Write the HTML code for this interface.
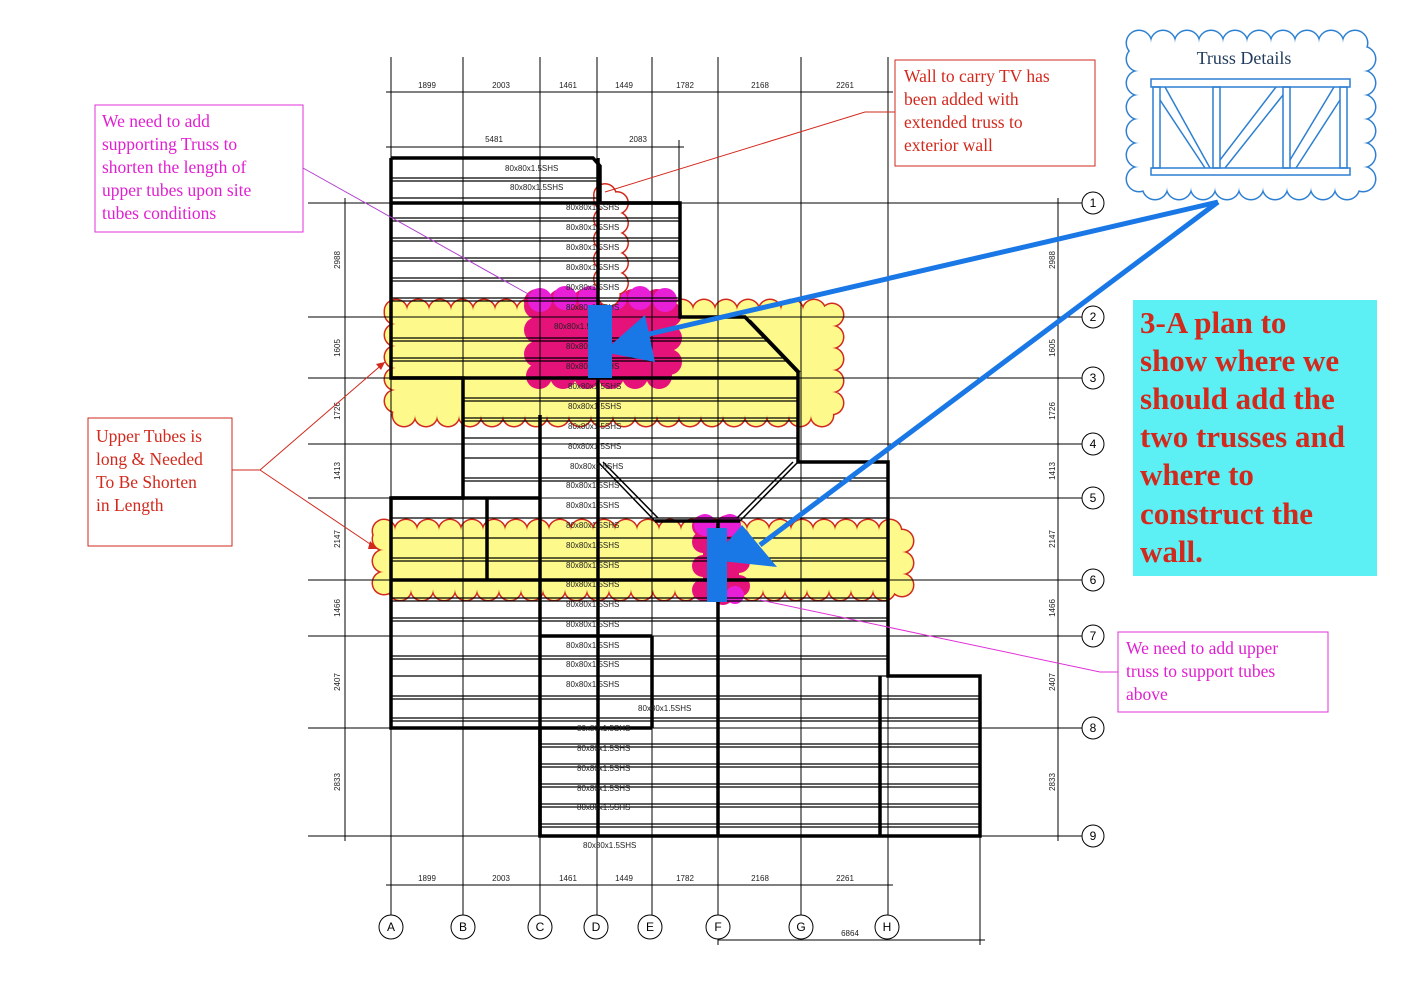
<!DOCTYPE html>
<html><head><meta charset="utf-8"><style>
html,body{margin:0;padding:0;background:#fff;}
svg{display:block;}
.s{font-family:"Liberation Sans",sans-serif;font-size:8px;fill:#222;}
.d{font-family:"Liberation Sans",sans-serif;font-size:8px;fill:#222;text-anchor:middle;}
.c{font-family:"Liberation Sans",sans-serif;font-size:12px;fill:#000;text-anchor:middle;}
.t{font-family:"Liberation Serif",serif;font-size:17.5px;}
</style></head><body>
<svg width="1403" height="992" viewBox="0 0 1403 992" xmlns="http://www.w3.org/2000/svg">
<rect width="1403" height="992" fill="#fff"/>

<!-- clouds yellow (scalloped) -->
<g stroke-linecap="round" stroke-dasharray="0 22" fill="none">
<rect x="396" y="311" width="436" height="104" stroke="#d2291d" stroke-width="25"/>
<rect x="396" y="311" width="436" height="104" stroke="#fdf98a" stroke-width="22"/>
<rect x="384" y="531" width="518" height="58" stroke="#d2291d" stroke-width="25"/>
<rect x="384" y="531" width="518" height="58" stroke="#fdf98a" stroke-width="22"/>
</g>
<rect x="396" y="311" width="436" height="104" fill="#fdf98a"/>
<rect x="384" y="531" width="518" height="58" fill="#fdf98a"/>
<!-- magenta clouds -->
<g stroke-linecap="round" stroke-dasharray="0 24" fill="none">
<rect x="537" y="302" width="132" height="74" stroke="#e5127a" stroke-width="26"/>
<rect x="703" y="526" width="36" height="68" stroke="#e5127a" stroke-width="22"/>
</g>
<rect x="537" y="302" width="132" height="74" fill="#e5127a"/>
<rect x="703" y="526" width="36" height="68" fill="#e5127a"/>
<g fill="#e91fd8">
<circle cx="540" cy="300" r="12"/><circle cx="565" cy="298" r="12"/><circle cx="590" cy="298" r="12"/><circle cx="615" cy="298" r="12"/><circle cx="640" cy="298" r="12"/><circle cx="665" cy="300" r="12"/>
<circle cx="705" cy="525" r="11"/><circle cx="730" cy="525" r="11"/><circle cx="735" cy="595" r="9"/>
</g>
<!-- red TV cloud -->
<g stroke-linecap="round" stroke-dasharray="0 20" fill="none">
<rect x="605" y="195" width="12" height="100" stroke="#d2291d" stroke-width="24"/>
<rect x="605" y="195" width="12" height="100" stroke="#fff" stroke-width="21"/>
</g>
<rect x="605" y="195" width="12" height="100" fill="#fff"/>

<!-- grid lines -->
<g stroke="#000" stroke-width="1">
<line x1="391" y1="57" x2="391" y2="915"/><line x1="463" y1="57" x2="463" y2="915"/>
<line x1="540" y1="57" x2="540" y2="915"/><line x1="597" y1="57" x2="597" y2="915"/>
<line x1="652" y1="57" x2="652" y2="915"/><line x1="718" y1="57" x2="718" y2="945"/>
<line x1="801" y1="57" x2="801" y2="915"/><line x1="888" y1="57" x2="888" y2="915"/>
<line x1="980" y1="676" x2="980" y2="945"/><line x1="679" y1="140" x2="679" y2="203"/>
<line x1="308" y1="203" x2="1082" y2="203"/><line x1="308" y1="317" x2="1082" y2="317"/>
<line x1="308" y1="378" x2="1082" y2="378"/><line x1="308" y1="444" x2="1082" y2="444"/>
<line x1="308" y1="498" x2="1082" y2="498"/><line x1="308" y1="580" x2="1082" y2="580"/>
<line x1="308" y1="636" x2="1082" y2="636"/><line x1="308" y1="728" x2="1082" y2="728"/>
<line x1="308" y1="836" x2="1082" y2="836"/>
<line x1="386" y1="92" x2="893" y2="92"/><line x1="386" y1="147" x2="684" y2="147"/>
<line x1="386" y1="885" x2="893" y2="885"/><line x1="718" y1="940" x2="985" y2="940"/>
<line x1="345" y1="198" x2="345" y2="841"/><line x1="1058" y1="198" x2="1058" y2="841"/>
</g>

<!-- purlins -->
<g stroke="#000" stroke-width="1.2">
<line x1="391" y1="178" x2="597" y2="178"/><line x1="391" y1="181" x2="597" y2="181"/>
<line x1="391" y1="198" x2="597" y2="198"/>
<line x1="391" y1="218" x2="680" y2="218"/><line x1="391" y1="221" x2="680" y2="221"/>
<line x1="391" y1="238" x2="680" y2="238"/><line x1="391" y1="241" x2="680" y2="241"/>
<line x1="391" y1="258" x2="680" y2="258"/><line x1="391" y1="261" x2="680" y2="261"/>
<line x1="391" y1="278" x2="680" y2="278"/><line x1="391" y1="281" x2="680" y2="281"/>
<line x1="391" y1="298" x2="680" y2="298"/><line x1="391" y1="301" x2="680" y2="301"/>
<line x1="391" y1="338" x2="765" y2="338"/><line x1="391" y1="341" x2="767" y2="341"/>
<line x1="391" y1="358" x2="785" y2="358"/><line x1="391" y1="361" x2="787" y2="361"/>
<line x1="463" y1="398" x2="798" y2="398"/><line x1="463" y1="401" x2="798" y2="401"/>
<line x1="463" y1="418" x2="798" y2="418"/><line x1="463" y1="421" x2="798" y2="421"/>
<line x1="463" y1="438" x2="798" y2="438"/>
<line x1="463" y1="458" x2="798" y2="458"/>
<line x1="463" y1="478" x2="888" y2="478"/><line x1="463" y1="481" x2="888" y2="481"/>
<line x1="391" y1="518" x2="888" y2="518"/><line x1="391" y1="538" x2="888" y2="538"/>
<line x1="391" y1="558" x2="888" y2="558"/><line x1="391" y1="561" x2="888" y2="561"/>
<line x1="391" y1="598" x2="888" y2="598"/><line x1="391" y1="601" x2="888" y2="601"/>
<line x1="391" y1="618" x2="888" y2="618"/><line x1="391" y1="621" x2="888" y2="621"/>
<line x1="391" y1="656" x2="888" y2="656"/><line x1="391" y1="659" x2="888" y2="659"/>
<line x1="391" y1="676" x2="888" y2="676"/><line x1="391" y1="696" x2="980" y2="696"/><line x1="391" y1="699" x2="980" y2="699"/>
<line x1="391" y1="718" x2="980" y2="718"/><line x1="391" y1="721" x2="980" y2="721"/>
<line x1="540" y1="744" x2="980" y2="744"/><line x1="540" y1="747" x2="980" y2="747"/>
<line x1="540" y1="764" x2="980" y2="764"/><line x1="540" y1="767" x2="980" y2="767"/>
<line x1="540" y1="784" x2="980" y2="784"/><line x1="540" y1="787" x2="980" y2="787"/>
<line x1="540" y1="804" x2="980" y2="804"/><line x1="540" y1="807" x2="980" y2="807"/>
<line x1="540" y1="824" x2="980" y2="824"/><line x1="540" y1="827" x2="980" y2="827"/>
</g>

<!-- thick outline -->
<g stroke="#000" stroke-width="3.5" fill="none">
<polyline points="391,158 593,158 600,166 600,203 680,203 680,317 745,317 798,372 798,462 888,462 888,676 980,676 980,836 540,836 540,728 391,728 391,498 463,498 463,378 391,378 391,158"/>
<line x1="391" y1="203" x2="680" y2="203"/>
<line x1="391" y1="378" x2="798" y2="378"/>
<line x1="391" y1="580" x2="888" y2="580"/>
<line x1="540" y1="636" x2="652" y2="636"/><line x1="652" y1="636" x2="652" y2="728"/>
<line x1="540" y1="415" x2="540" y2="836"/>
<line x1="598" y1="158" x2="598" y2="836"/>
<line x1="718" y1="520" x2="718" y2="836"/>
<line x1="487" y1="498" x2="487" y2="580"/>
<line x1="391" y1="498" x2="540" y2="498"/>
<line x1="880" y1="676" x2="880" y2="836"/>
<line x1="540" y1="728" x2="652" y2="728"/>
<line x1="655" y1="521" x2="740" y2="521"/>
</g>
<g stroke="#000" stroke-width="1.5" fill="none">
<polyline points="598,462 655,521"/><polyline points="603,462 658,518"/>
<polyline points="740,521 798,462"/><polyline points="737,518 793,462"/>
<line x1="750" y1="320" x2="800" y2="372"/>
</g>

<!-- purlin labels -->
<g class="s">
<text x="505" y="171">80x80x1.5SHS</text><text x="510" y="190">80x80x1.5SHS</text>
<text x="566" y="210">80x80x1.5SHS</text><text x="566" y="230">80x80x1.5SHS</text>
<text x="566" y="250">80x80x1.5SHS</text><text x="566" y="270">80x80x1.5SHS</text>
<text x="566" y="290">80x80x1.5SHS</text><text x="566" y="310">80x80x1.5SHS</text>
<text x="554" y="329">80x80x1.5SHS</text><text x="566" y="349">80x80x1.5SHS</text>
<text x="566" y="369">80x80x1.5SHS</text><text x="568" y="389">80x80x1.5SHS</text>
<text x="568" y="409">80x80x1.5SHS</text><text x="568" y="429">80x80x1.5SHS</text>
<text x="568" y="449">80x80x1.5SHS</text><text x="570" y="469">80x80x1.5SHS</text>
<text x="566" y="488">80x80x1.5SHS</text><text x="566" y="508">80x80x1.5SHS</text>
<text x="566" y="528">80x80x1.5SHS</text><text x="566" y="548">80x80x1.5SHS</text>
<text x="566" y="568">80x80x1.5SHS</text><text x="566" y="587">80x80x1.5SHS</text>
<text x="566" y="607">80x80x1.5SHS</text><text x="566" y="627">80x80x1.5SHS</text>
<text x="566" y="648">80x80x1.5SHS</text><text x="566" y="667">80x80x1.5SHS</text>
<text x="566" y="687">80x80x1.5SHS</text><text x="638" y="711">80x80x1.5SHS</text>
<text x="577" y="731">80x80x1.5SHS</text><text x="577" y="751">80x80x1.5SHS</text>
<text x="577" y="771">80x80x1.5SHS</text><text x="577" y="791">80x80x1.5SHS</text>
<text x="577" y="810">80x80x1.5SHS</text><text x="583" y="848">80x80x1.5SHS</text>
</g>

<!-- dimension texts -->
<g class="d">
<text x="427" y="88">1899</text><text x="501" y="88">2003</text><text x="568" y="88">1461</text>
<text x="624" y="88">1449</text><text x="685" y="88">1782</text><text x="760" y="88">2168</text><text x="845" y="88">2261</text>
<text x="494" y="142">5481</text><text x="638" y="142">2083</text>
<text x="427" y="881">1899</text><text x="501" y="881">2003</text><text x="568" y="881">1461</text>
<text x="624" y="881">1449</text><text x="685" y="881">1782</text><text x="760" y="881">2168</text><text x="845" y="881">2261</text>
<text x="850" y="936">6864</text>
</g>
<g class="d">
<text transform="translate(340,260) rotate(-90)">2988</text><text transform="translate(340,348) rotate(-90)">1605</text>
<text transform="translate(340,411) rotate(-90)">1726</text><text transform="translate(340,471) rotate(-90)">1413</text>
<text transform="translate(340,539) rotate(-90)">2147</text><text transform="translate(340,608) rotate(-90)">1466</text>
<text transform="translate(340,682) rotate(-90)">2407</text><text transform="translate(340,782) rotate(-90)">2833</text>
<text transform="translate(1055,260) rotate(-90)">2988</text><text transform="translate(1055,348) rotate(-90)">1605</text>
<text transform="translate(1055,411) rotate(-90)">1726</text><text transform="translate(1055,471) rotate(-90)">1413</text>
<text transform="translate(1055,539) rotate(-90)">2147</text><text transform="translate(1055,608) rotate(-90)">1466</text>
<text transform="translate(1055,682) rotate(-90)">2407</text><text transform="translate(1055,782) rotate(-90)">2833</text>
</g>

<!-- circles -->
<g fill="#fff" stroke="#000" stroke-width="1">
<circle cx="1093" cy="203" r="11"/><circle cx="1093" cy="317" r="11"/><circle cx="1093" cy="378" r="11"/>
<circle cx="1093" cy="444" r="11"/><circle cx="1093" cy="498" r="11"/><circle cx="1093" cy="580" r="11"/>
<circle cx="1093" cy="636" r="11"/><circle cx="1093" cy="728" r="11"/><circle cx="1093" cy="836" r="11"/>
<circle cx="391" cy="927" r="12"/><circle cx="463" cy="927" r="12"/><circle cx="540" cy="927" r="12"/>
<circle cx="596" cy="927" r="12"/><circle cx="650" cy="927" r="12"/><circle cx="718" cy="927" r="12"/>
<circle cx="801" cy="927" r="12"/><circle cx="887" cy="927" r="12"/>
</g>
<g class="c">
<text x="1093" y="207">1</text><text x="1093" y="321">2</text><text x="1093" y="382">3</text>
<text x="1093" y="448">4</text><text x="1093" y="502">5</text><text x="1093" y="584">6</text>
<text x="1093" y="640">7</text><text x="1093" y="732">8</text><text x="1093" y="840">9</text>
<text x="391" y="931">A</text><text x="463" y="931">B</text><text x="540" y="931">C</text>
<text x="596" y="931">D</text><text x="650" y="931">E</text><text x="718" y="931">F</text>
<text x="801" y="931">G</text><text x="887" y="931">H</text>
</g>

<!-- blue markers and arrows -->
<rect x="588" y="305" width="24" height="73" fill="#1a78e6"/>
<rect x="707" y="528" width="20" height="74" fill="#1a78e6"/>
<g stroke="#1a78e6" stroke-width="5" fill="none">
<line x1="1218" y1="202" x2="645" y2="335"/>
<line x1="1218" y1="202" x2="760" y2="545"/>
</g>
<polygon points="603,352 645,315 655,362" fill="#1a78e6"/>
<polygon points="712,560 742,525 777,567" fill="#1a78e6"/>

<!-- truss details cloud -->
<g stroke-linecap="round" stroke-dasharray="0 24" fill="none">
<rect x="1139" y="43" width="224" height="144" stroke="#2d7fd2" stroke-width="27"/>
<rect x="1139" y="43" width="224" height="144" stroke="#fff" stroke-width="24"/>
</g>
<rect x="1139" y="43" width="224" height="144" fill="#fff"/>
<text x="1244" y="64" class="t" style="font-size:18px;fill:#1f3a5a;text-anchor:middle">Truss Details</text>
<g fill="none" stroke="#2d7fd2" stroke-width="1.5">
<rect x="1151" y="79" width="199" height="8"/><rect x="1151" y="168" width="199" height="7"/>
<rect x="1153" y="87" width="7" height="81"/><rect x="1213" y="87" width="7" height="81"/>
<rect x="1283" y="87" width="7" height="81"/><rect x="1340" y="87" width="7" height="81"/>
<line x1="1165" y1="87" x2="1210" y2="168"/><line x1="1160" y1="100" x2="1205" y2="168"/>
<line x1="1220" y1="160" x2="1276" y2="87"/><line x1="1225" y1="168" x2="1283" y2="95"/>
<line x1="1290" y1="160" x2="1334" y2="87"/><line x1="1296" y1="168" x2="1340" y2="100"/>
</g>

<!-- cyan box -->
<rect x="1133" y="300" width="244" height="276" fill="#5cf0f5"/>
<g class="t" style="font-size:31px;font-weight:bold;fill:#d2291d">
<text x="1140" y="333">3-A plan to</text><text x="1140" y="371">show where we</text>
<text x="1140" y="409">should add the</text><text x="1140" y="447">two trusses and</text>
<text x="1140" y="485">where to</text><text x="1140" y="524">construct the</text>
<text x="1140" y="562">wall.</text>
</g>

<!-- annotation boxes -->
<rect x="95" y="105" width="208" height="127" fill="#fff" stroke="#e030d8"/>
<g class="t" style="fill:#e020d0"><text x="102" y="127">We need to add</text><text x="102" y="150">supporting Truss to</text>
<text x="102" y="173">shorten the length of</text><text x="102" y="196">upper tubes upon site</text><text x="102" y="219">tubes conditions</text></g>
<line x1="303" y1="168" x2="530" y2="295" stroke="#b040d0" stroke-width="1"/>

<rect x="895" y="60" width="200" height="106" fill="#fff" stroke="#d2291d"/>
<g class="t" style="fill:#d2291d"><text x="904" y="82">Wall to carry TV has</text><text x="904" y="105">been added with</text>
<text x="904" y="128">extended truss to</text><text x="904" y="151">exterior wall</text></g>
<polyline points="895,112 865,112 605,192" fill="none" stroke="#d2291d" stroke-width="1"/>

<rect x="88" y="418" width="144" height="128" fill="#fff" stroke="#d2291d"/>
<g class="t" style="fill:#d2291d"><text x="96" y="442">Upper Tubes is</text><text x="96" y="465">long &amp; Needed</text>
<text x="96" y="488">To Be Shorten</text><text x="96" y="511">in Length</text></g>
<g stroke="#d2291d" stroke-width="1" fill="none"><polyline points="232,470 260,470 385,362"/><polyline points="260,470 376,548"/></g>
<polygon points="385,362 376,364 381,370" fill="#d2291d"/><polygon points="378,549 370,541 368,549" fill="#d2291d"/>

<rect x="1118" y="632" width="210" height="80" fill="#fff" stroke="#e030d8"/>
<g class="t" style="fill:#e020d0"><text x="1126" y="654">We need to add upper</text><text x="1126" y="677">truss to support tubes</text><text x="1126" y="700">above</text></g>
<polyline points="1118,672 1100,672 760,600" fill="none" stroke="#e030d8" stroke-width="1"/>
</svg>
</body></html>
